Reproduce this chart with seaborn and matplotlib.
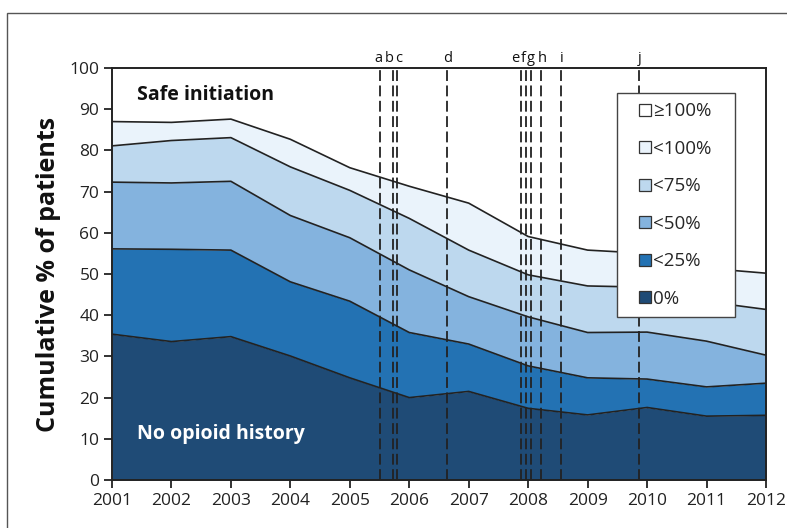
import matplotlib
matplotlib.use("Agg")
import matplotlib.pyplot as plt
import matplotlib.patches as mpatches
from matplotlib.lines import Line2D
from matplotlib import font_manager
import seaborn as sns
import pandas as pd

# cumulative % of patients (upper edge of each band)
years = [2001, 2002, 2003, 2004, 2005, 2006, 2007, 2008, 2009, 2010, 2011, 2012]
pct_0 = [35.4, 33.6, 34.8, 30.1, 24.8, 20.0, 21.5, 17.4, 15.8, 17.6, 15.5, 15.7]
pct_25 = [56.1, 56.0, 55.8, 48.1, 43.4, 35.8, 33.0, 27.7, 24.8, 24.5, 22.6, 23.5]
pct_50 = [72.3, 72.1, 72.5, 64.2, 58.8, 51.0, 44.5, 39.6, 35.8, 35.9, 33.7, 30.3]
pct_75 = [81.1, 82.4, 83.1, 76.0, 70.3, 63.5, 55.8, 49.8, 47.1, 46.8, 43.3, 41.4]
pct_100 = [87.0, 86.8, 87.6, 82.7, 75.8, 71.3, 67.2, 59.1, 55.8, 55.0, 51.4, 50.2]

band_labels = ["0%", "<25%", "<50%", "<75%", "<100%", "\u2265100%"]
band_colors = ["#1f4b76", "#2372b3", "#84b3de", "#bdd8ee", "#eaf3fb", "#ffffff"]

# policy events (line position, label position)
event_labels = ["a", "b", "c", "d", "e", "f", "g", "h", "i", "j"]
event_years = [2005.51, 2005.73, 2005.80, 2006.64, 2007.88, 2007.96,
               2008.05, 2008.22, 2008.55, 2009.87]
event_label_x = [2005.48, 2005.66, 2005.82, 2006.64, 2007.78, 2007.91,
                 2008.04, 2008.24, 2008.56, 2009.87]

sns.set_style("ticks")
plt.rcParams["font.family"] = ["Open Sans", "DejaVu Sans"]
installed = {f.name for f in font_manager.fontManager.ttflist}
narrow = ["Liberation Sans Narrow"] if "Liberation Sans Narrow" in installed else []

fig = plt.figure(figsize=(7.87, 5.28), dpi=100)
ax = fig.add_axes([0.1423, 0.0909, 0.831, 0.7803])

levels = [[0] * len(years), pct_0, pct_25, pct_50, pct_75, pct_100, [100] * len(years)]
for i in range(6):
    ax.fill_between(years, levels[i], levels[i + 1], color=band_colors[i],
                    linewidth=0, label=band_labels[i])

df = pd.DataFrame({"year": years * 5,
                   "value": pct_0 + pct_25 + pct_50 + pct_75 + pct_100,
                   "edge": sum([[k] * len(years) for k in range(5)], [])})
sns.lineplot(data=df, x="year", y="value", units="edge", estimator=None,
             color="#222222", linewidth=1.2, ax=ax, legend=False)

for yr in event_years:
    ax.axvline(yr, color="#222222", linewidth=1.3, dashes=(6, 2.5))
for lab, lx in zip(event_labels, event_label_x):
    ax.text(lx, 101.4, lab, ha="center", va="baseline", fontsize=11.5 if narrow else 10.5,
            family=narrow + ["Open Sans"], color="#111111")

ax.text(2001.42, 93.4, "Safe initiation", fontsize=14, fontweight="bold",
        ha="left", va="center", color="#111111")
ax.text(2001.42, 11.2, "No opioid history", fontsize=14, fontweight="bold",
        ha="left", va="center", color="white")

ax.set_xlim(2001, 2012)
ax.set_ylim(0, 100)
ax.set_xticks(years)
ax.set_yticks(range(0, 101, 10))
ax.tick_params(labelsize=12.5, length=6, width=1.3, direction="out", color="#222222",
               labelcolor="#222222", pad=3)
ax.set_xlabel("")
ax.set_ylabel("Cumulative % of patients", fontsize=18, fontweight="bold", labelpad=6,
              color="#111111")
for s in ax.spines.values():
    s.set_linewidth(1.4)
    s.set_color("#222222")
    s.set_zorder(5)

handles = [Line2D([], [], linestyle="none", marker="s", markersize=8.4,
                  markerfacecolor=c, markeredgecolor="#333333", markeredgewidth=0.9, label=l)
           for c, l in zip(band_colors, band_labels)][::-1]
leg = ax.legend(handles=handles, loc="upper left", bbox_to_anchor=(0.7722, 0.5, 0.1804, 0.4393),
                mode="expand", borderaxespad=0, fancybox=False, framealpha=1,
                edgecolor="#444444", fontsize=13.5, handlelength=1.98,
                handletextpad=-0.55, labelspacing=1.04, borderpad=0.5)
leg.get_frame().set_linewidth(1.0)
leg.set_zorder(6)

frame = mpatches.Rectangle((0.0089, -0.2), 1.2, 0.2 + 0.9754, transform=fig.transFigure,
                           fill=False, edgecolor="#555555", linewidth=1.0, clip_on=False)
fig.patches.append(frame)

fig.savefig("out.png", dpi=100)
